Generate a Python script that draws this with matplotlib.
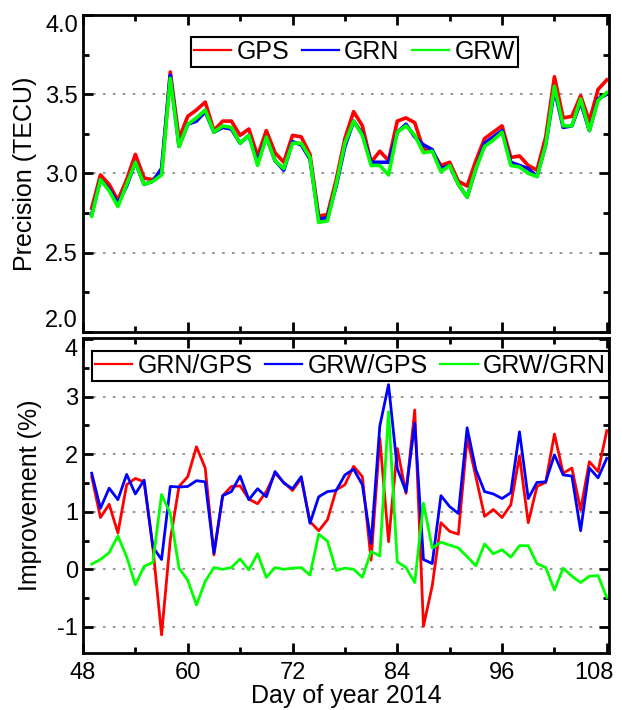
import matplotlib
matplotlib.use("Agg")
import matplotlib.pyplot as plt
from matplotlib.ticker import MultipleLocator, FormatStrFormatter
from matplotlib.transforms import ScaledTranslation

plt.rcParams['font.family'] = ['Liberation Sans', 'DejaVu Sans']
plt.rcParams['axes.unicode_minus'] = False

days = list(range(49, 109))

gps = [2.78, 2.99, 2.93, 2.83, 2.96, 3.12, 2.97, 2.96, 3.00, 3.64,
       3.22, 3.36, 3.40, 3.45, 3.27, 3.33, 3.33, 3.24, 3.28, 3.11,
       3.27, 3.13, 3.07, 3.24, 3.23, 3.12, 2.73, 2.74, 2.96, 3.22,
       3.39, 3.30, 3.07, 3.14, 3.08, 3.33, 3.35, 3.32, 3.15, 3.14,
       3.05, 3.07, 2.95, 2.92, 3.08, 3.22, 3.26, 3.30, 3.10, 3.11,
       3.05, 3.02, 3.23, 3.61, 3.35, 3.36, 3.49, 3.33, 3.53, 3.59]
grn = [2.74, 2.96, 2.90, 2.81, 2.92, 3.07, 2.93, 2.95, 3.03, 3.62,
       3.17, 3.31, 3.33, 3.39, 3.26, 3.29, 3.28, 3.19, 3.24, 3.07,
       3.23, 3.08, 3.02, 3.20, 3.18, 3.09, 2.71, 2.72, 2.92, 3.17,
       3.33, 3.25, 3.07, 3.07, 3.07, 3.26, 3.31, 3.23, 3.18, 3.15,
       3.03, 3.05, 2.93, 2.85, 3.03, 3.19, 3.23, 3.27, 3.07, 3.05,
       3.03, 2.98, 3.18, 3.53, 3.29, 3.30, 3.45, 3.27, 3.47, 3.50]
grw = [2.73, 2.96, 2.89, 2.79, 2.93, 3.07, 2.93, 2.95, 2.99, 3.60,
       3.17, 3.31, 3.35, 3.40, 3.26, 3.30, 3.29, 3.19, 3.24, 3.05,
       3.23, 3.08, 3.03, 3.19, 3.19, 3.10, 2.69, 2.70, 2.93, 3.19,
       3.33, 3.24, 3.05, 3.05, 2.99, 3.26, 3.30, 3.24, 3.13, 3.14,
       3.01, 3.05, 2.93, 2.85, 3.03, 3.17, 3.21, 3.26, 3.05, 3.04,
       3.00, 2.98, 3.18, 3.55, 3.30, 3.30, 3.47, 3.27, 3.46, 3.51]

grn_gps = [1.61, 0.90, 1.13, 0.63, 1.47, 1.58, 1.52, 0.39, -1.14, 0.51,
           1.44, 1.61, 2.13, 1.76, 0.25, 1.28, 1.44, 1.45, 1.22, 1.14,
           1.35, 1.67, 1.51, 1.37, 1.58, 0.83, 0.67, 0.86, 1.38, 1.47,
           1.79, 1.61, 0.16, 2.28, 0.48, 2.10, 1.32, 2.77, -0.99, -0.29,
           0.81, 0.66, 0.61, 2.28, 1.61, 0.92, 1.04, 0.90, 1.12, 1.97,
           0.81, 1.44, 1.51, 2.35, 1.67, 1.76, 1.03, 1.87, 1.70, 2.41]
grw_gps = [1.67, 1.06, 1.41, 1.21, 1.65, 1.31, 1.55, 0.39, 0.17, 1.44,
           1.43, 1.44, 1.54, 1.52, 0.28, 1.28, 1.35, 1.62, 1.21, 1.40,
           1.26, 1.70, 1.50, 1.40, 1.61, 0.80, 1.26, 1.35, 1.37, 1.64,
           1.74, 1.47, 0.45, 2.49, 3.21, 1.75, 1.35, 2.54, 0.17, 0.10,
           1.28, 1.09, 0.97, 2.46, 1.73, 1.35, 1.31, 1.23, 1.33, 2.39,
           1.23, 1.51, 1.52, 1.99, 1.64, 1.62, 0.67, 1.76, 1.59, 1.93]
grw_grn = [0.09, 0.17, 0.29, 0.58, 0.22, -0.27, 0.05, 0.12, 1.30, 0.97,
           0.02, -0.19, -0.62, -0.21, 0.03, 0.00, 0.03, 0.18, -0.01, 0.27,
           -0.14, 0.03, 0.00, 0.02, 0.03, -0.10, 0.61, 0.49, -0.02, 0.02,
           0.00, -0.14, 0.31, 0.23, 2.74, 0.13, 0.03, -0.23, 1.15, 0.37,
           0.47, 0.42, 0.37, 0.22, 0.06, 0.44, 0.27, 0.34, 0.21, 0.41,
           0.41, 0.10, 0.03, -0.36, 0.02, -0.12, -0.23, -0.12, -0.11, -0.49]

RED, BLUE, GREEN = '#FF0000', '#0000FF', '#00FF00'
FS_TICK = 17
FS_LAB = 18
FS_LEG = 18

fig = plt.figure(figsize=(6.22, 7.10), dpi=100)
ax1 = fig.add_axes([0.1334, 0.5328, 0.8457, 0.4461])
ax2 = fig.add_axes([0.1334, 0.0807, 0.8457, 0.4432])

grid_kw = dict(color='#909090', linestyle=(0, (1.5, 4)), linewidth=1.3, zorder=0)

for ax in (ax1, ax2):
    ax.set_xlim(48, 108.25)
    ax.xaxis.set_major_locator(MultipleLocator(12))
    ax.xaxis.set_minor_locator(MultipleLocator(6))
    ax.tick_params(which='both', direction='in', top=True, right=True,
                   labelsize=FS_TICK, width=2)
    ax.tick_params(which='major', length=7)
    ax.tick_params(which='minor', length=4.5)
    ax.tick_params(axis='x', which='major', pad=7)
    for s in ax.spines.values():
        s.set_linewidth(2)

leg_kw = dict(loc='upper center', ncol=3, fontsize=FS_LEG, frameon=True,
              fancybox=False, framealpha=1, edgecolor='black',
              handlelength=1.5, handletextpad=0.2, columnspacing=0.5,
              borderpad=0.12, borderaxespad=0.0)

# top panel
for v in [2.5, 3.0, 3.5]:
    ax1.axhline(v, **grid_kw)
ax1.plot(days, gps, color=RED, lw=2.6, label='GPS')
ax1.plot(days, grn, color=BLUE, lw=2.6, label='GRN')
ax1.plot(days, grw, color=GREEN, lw=2.6, label='GRW')
ax1.set_ylim(2.0, 4.0)
ax1.yaxis.set_major_locator(MultipleLocator(0.5))
ax1.yaxis.set_minor_locator(MultipleLocator(0.25))
ax1.yaxis.set_major_formatter(FormatStrFormatter('%.1f'))
ax1.tick_params(labelbottom=False)
ax1.set_ylabel('Precision (TECU)', fontsize=FS_LAB, labelpad=6)
leg1 = ax1.legend(bbox_to_anchor=(0.516, 0.93), **leg_kw)
leg1.get_frame().set_linewidth(1.5)
for l in leg1.get_lines():
    l.set_linewidth(1.6)

# bottom panel
for v in [-1, 0, 1, 2, 3]:
    ax2.axhline(v, **grid_kw)
ax2.plot(days, grn_gps, color=RED, lw=2.0, label='GRN/GPS')
ax2.plot(days, grw_gps, color=BLUE, lw=2.0, label='GRW/GPS')
ax2.plot(days, grw_grn, color=GREEN, lw=2.0, label='GRW/GRN')
ax2.set_ylim(-1.45, 4.02)
ax2.yaxis.set_major_locator(MultipleLocator(1))
ax2.yaxis.set_minor_locator(MultipleLocator(0.5))
ax2.set_ylabel('Improvement (%)', fontsize=FS_LAB, labelpad=11)
ax2.set_xlabel('Day of year 2014', fontsize=FS_LAB, labelpad=0)
leg2 = ax2.legend(bbox_to_anchor=(0.508, 0.96), **leg_kw)
leg2.get_frame().set_linewidth(1.5)
for l in leg2.get_lines():
    l.set_linewidth(1.6)

# nudge edge tick labels inward as in the reference
fig.canvas.draw()
for t in ax1.yaxis.get_major_ticks():
    loc = t.get_loc()
    if abs(loc - 2.0) < 1e-6:
        t.label1.set_va('bottom')
    elif abs(loc - 4.0) < 1e-6:
        t.label1.set_va('top')
for t in ax2.yaxis.get_major_ticks():
    if abs(t.get_loc() - 4.0) < 1e-6:
        t.label1.set_va('top')
for t in ax2.xaxis.get_major_ticks():
    if abs(t.get_loc() - 108) < 1e-6:
        t.label1.set_transform(t.label1.get_transform() +
                               ScaledTranslation(-9 / 72, 0, fig.dpi_scale_trans))

fig.savefig('out.png', dpi=100)
